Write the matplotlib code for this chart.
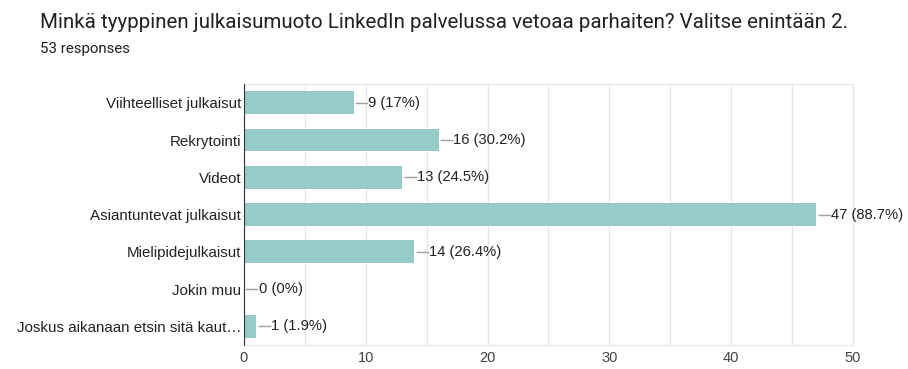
import matplotlib.pyplot as plt
from matplotlib.ticker import MultipleLocator

categories = ["Viihteelliset julkaisut", "Rekrytointi", "Videot", "Asiantuntevat julkaisut",
              "Mielipidejulkaisut", "Jokin muu", "Joskus aikanaan etsin sitä kaut\u2026"]
counts = [9, 16, 13, 47, 14, 0, 1]
percents = ["17%", "30.2%", "24.5%", "88.7%", "26.4%", "0%", "1.9%"]
xticks = [0, 10, 20, 30, 40, 50]

fig = plt.figure(figsize=(9.08, 3.69), dpi=100)
ax = fig.add_axes([0.2687, 0.0650, 0.6707, 0.7070])

y = list(range(len(categories)))
ax.barh(y, counts, height=0.61, color="#97cbc9", zorder=2)
ax.set_ylim(len(categories) - 0.5, -0.5)
ax.set_xlim(0, 50)

for yi, c, p in zip(y, counts, percents):
    ax.plot([c + 0.2, c + 1.1], [yi, yi], color="#9e9e9e", lw=1, zorder=3, clip_on=False)
    ax.text(c + 1.2, yi, f"{c} ({p})", va="center", ha="left", fontsize=10.6,
            family="Liberation Sans", color="#222222", clip_on=False)

ax.set_yticks(y)
ax.set_yticklabels(categories, fontsize=10.9, family="Liberation Sans", color="#222222")
ax.set_xticks(xticks)
ax.set_xticklabels([str(t) for t in xticks], fontsize=10.5, family="Liberation Sans", color="#444444")
ax.xaxis.set_minor_locator(MultipleLocator(5))
ax.grid(axis="x", which="both", color="#e6e6e6", lw=1, zorder=0)
ax.tick_params(axis="both", which="both", length=0)
ax.tick_params(axis="y", pad=2)
ax.tick_params(axis="x", pad=4)

for s in ["top", "right", "bottom"]:
    ax.spines[s].set_color("#e6e6e6")
ax.spines["left"].set_color("#333333")
ax.spines["left"].set_zorder(4)

fig.text(40 / 908, 1 - 22 / 369, "Minkä tyyppinen julkaisumuoto LinkedIn palvelussa vetoaa parhaiten? Valitse enintään 2.",
         fontsize=14.8, family="Roboto", color="#202124", va="center", ha="left")
fig.text(40 / 908, 1 - 49 / 369, "53 responses", fontsize=10.8, family="Roboto", color="#202124",
         va="center", ha="left")

fig.savefig("out.png", dpi=100)
